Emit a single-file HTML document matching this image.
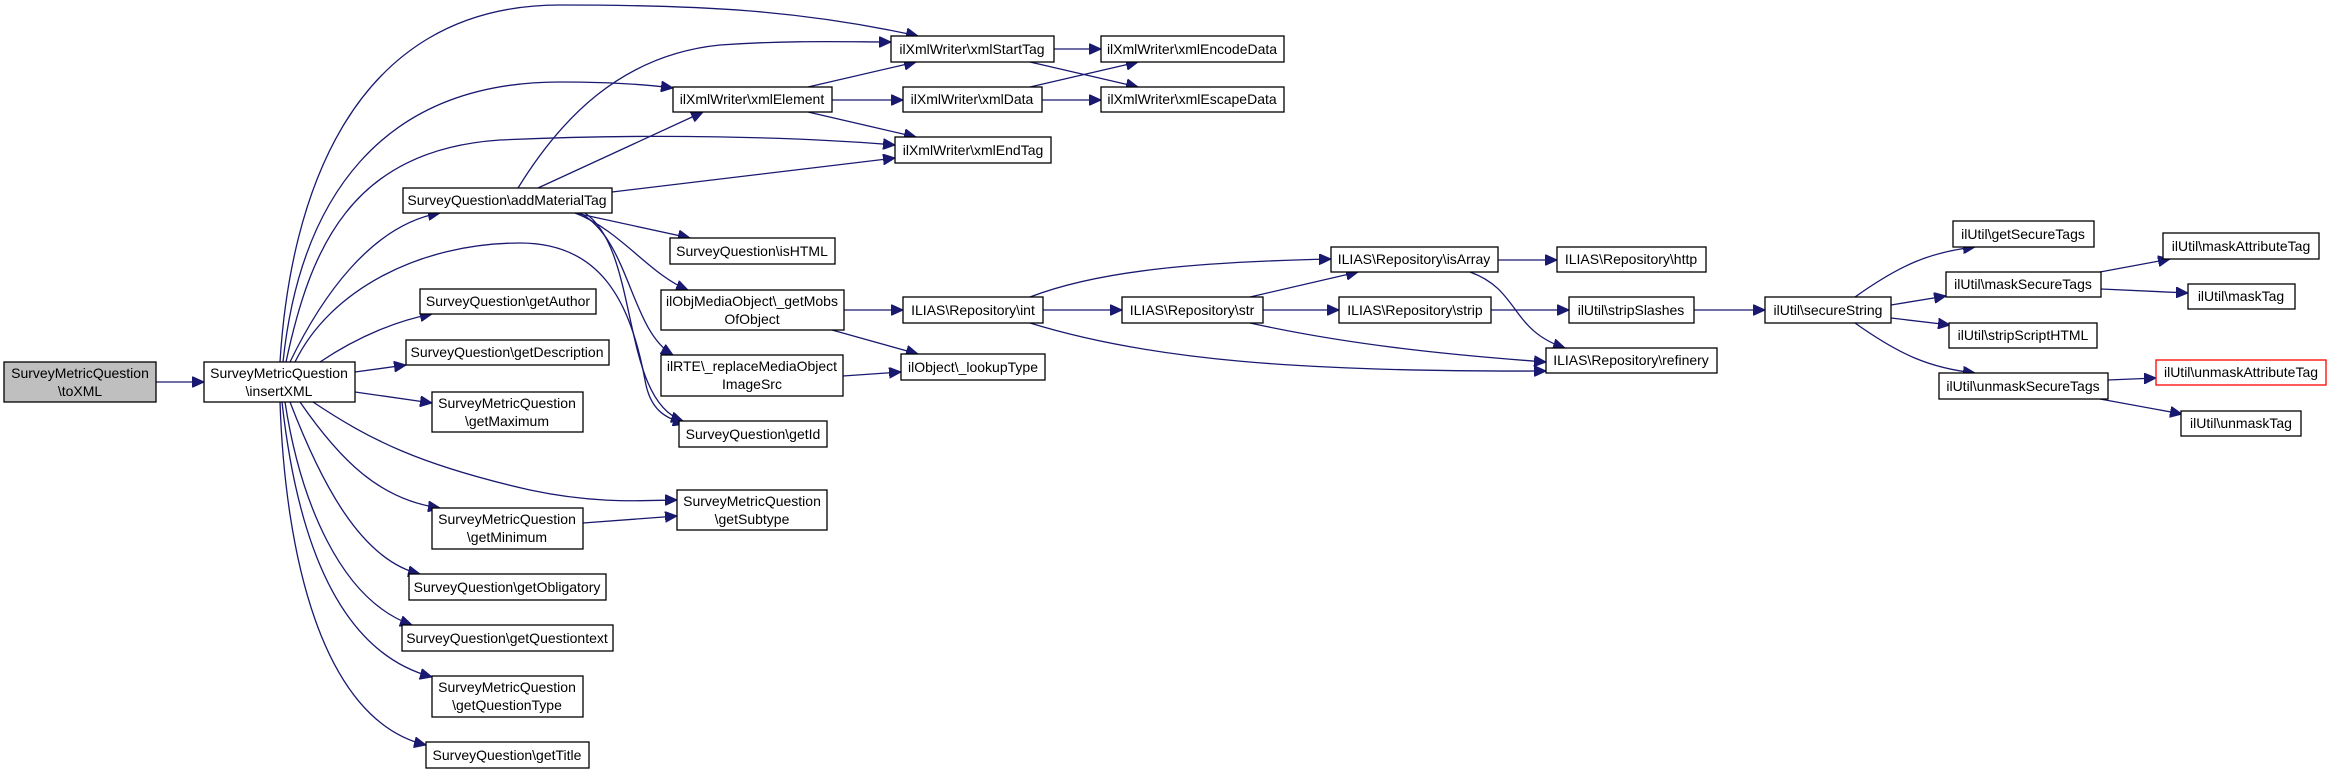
<!DOCTYPE html>
<html><head><meta charset="utf-8"><style>
html,body{margin:0;padding:0;background:#fff;}
svg{display:block;}
text{font-family:"Liberation Sans Narrow","Liberation Sans",sans-serif;font-size:14px;fill:#000;text-anchor:middle;}
rect{fill:#fff;stroke:#000;stroke-width:1.3;}
path{fill:none;stroke:#191970;stroke-width:1.3;}
</style></head><body>
<svg width="2328" height="774" viewBox="0 0 2328 774" xmlns="http://www.w3.org/2000/svg">
<defs><marker id="a" markerUnits="userSpaceOnUse" markerWidth="13" markerHeight="11" refX="12" refY="5.5" orient="auto"><path d="M0,0 L12,5.5 L0,11 Z" style="fill:#191970;stroke:#191970;stroke-width:1"/></marker></defs>
<g marker-end="url(#a)">
<path d="M156,382 L204,382"/>
<path d="M280,362 C290,200 350,5 560,5 C700,5 800,10 918,36"/>
<path d="M283,362 C300,200 380,82 560,82 C610,82 650,85 673,88"/>
<path d="M286,362 C310,250 350,150 500,140 C650,133 800,137 895,145"/>
<path d="M290,362 C320,300 370,225 440,213"/>
<path d="M295,362 C330,290 420,243 520,243 C600,243 630,300 645,380 C650,410 665,418 685,424"/>
<path d="M320,362 C360,335 400,320 432,314"/>
<path d="M355,372 L406,365"/>
<path d="M355,392 L432,403"/>
<path d="M313,402 C370,440 420,465 530,490 C600,505 650,500 677,500"/>
<path d="M300,402 C340,460 380,500 440,508"/>
<path d="M290,402 C320,480 360,560 420,574"/>
<path d="M285,402 C300,500 340,600 412,625"/>
<path d="M282,402 C295,520 330,650 432,677"/>
<path d="M280,402 C285,550 320,720 426,745"/>
<path d="M583,523 L677,516"/>
<path d="M518,188 C560,120 620,55 720,45 C790,40 850,42 891,42"/>
<path d="M538,188 L703,112"/>
<path d="M612,192 L895,158"/>
<path d="M575,213 L690,238"/>
<path d="M575,213 C620,230 650,275 688,290"/>
<path d="M580,213 C630,240 630,330 673,355"/>
<path d="M585,213 C640,250 620,400 683,421"/>
<path d="M808,87 L916,62"/>
<path d="M832,100 L903,100"/>
<path d="M808,112 L916,137"/>
<path d="M1054,49 L1101,49"/>
<path d="M1030,62 L1138,87"/>
<path d="M1030,87 L1138,62"/>
<path d="M1042,100 L1101,100"/>
<path d="M844,310 L903,310"/>
<path d="M832,330 L918,354"/>
<path d="M843,376 L901,372"/>
<path d="M1030,297 C1100,270 1200,262 1331,259"/>
<path d="M1043,310 L1122,310"/>
<path d="M1030,323 C1150,360 1300,372 1546,371"/>
<path d="M1250,297 L1358,272"/>
<path d="M1263,310 L1339,310"/>
<path d="M1250,323 C1350,345 1450,355 1546,362"/>
<path d="M1498,260 L1557,260"/>
<path d="M1470,272 C1520,290 1510,330 1565,348"/>
<path d="M1491,310 L1569,310"/>
<path d="M1694,310 L1765,310"/>
<path d="M1855,297 C1900,265 1930,252 1975,247"/>
<path d="M1891,305 L1946,296"/>
<path d="M1891,318 L1950,325"/>
<path d="M1855,323 C1900,355 1930,368 1975,373"/>
<path d="M2100,272 L2170,259"/>
<path d="M2101,289 L2188,293"/>
<path d="M2108,380 L2156,378"/>
<path d="M2100,399 L2182,414"/>
</g>
<rect x="4" y="362" width="152" height="40" style="fill:#bfbfbf"/><text x="80" y="378">SurveyMetricQuestion</text><text x="80" y="396">\toXML</text>
<rect x="204" y="362" width="151" height="40"/><text x="279" y="378">SurveyMetricQuestion</text><text x="279" y="396">\insertXML</text>
<rect x="403" y="188" width="209" height="25"/><text x="507" y="205">SurveyQuestion\addMaterialTag</text>
<rect x="420" y="289" width="176" height="25"/><text x="508" y="306">SurveyQuestion\getAuthor</text>
<rect x="406" y="340" width="203" height="25"/><text x="507" y="357">SurveyQuestion\getDescription</text>
<rect x="432" y="392" width="151" height="40"/><text x="507" y="408">SurveyMetricQuestion</text><text x="507" y="426">\getMaximum</text>
<rect x="432" y="508" width="151" height="41"/><text x="507" y="524">SurveyMetricQuestion</text><text x="507" y="542">\getMinimum</text>
<rect x="409" y="574" width="197" height="26"/><text x="507" y="592">SurveyQuestion\getObligatory</text>
<rect x="402" y="625" width="211" height="26"/><text x="507" y="643">SurveyQuestion\getQuestiontext</text>
<rect x="432" y="676" width="151" height="41"/><text x="507" y="692">SurveyMetricQuestion</text><text x="507" y="710">\getQuestionType</text>
<rect x="426" y="742" width="163" height="26"/><text x="507" y="760">SurveyQuestion\getTitle</text>
<rect x="891" y="36" width="163" height="26"/><text x="972" y="54">ilXmlWriter\xmlStartTag</text>
<rect x="1101" y="36" width="183" height="26"/><text x="1192" y="54">ilXmlWriter\xmlEncodeData</text>
<rect x="673" y="87" width="159" height="25"/><text x="752" y="104">ilXmlWriter\xmlElement</text>
<rect x="903" y="87" width="139" height="25"/><text x="972" y="104">ilXmlWriter\xmlData</text>
<rect x="1101" y="87" width="183" height="25"/><text x="1192" y="104">ilXmlWriter\xmlEscapeData</text>
<rect x="895" y="137" width="156" height="26"/><text x="973" y="155">ilXmlWriter\xmlEndTag</text>
<rect x="670" y="238" width="165" height="26"/><text x="752" y="256">SurveyQuestion\isHTML</text>
<rect x="661" y="290" width="183" height="40"/><text x="752" y="306">ilObjMediaObject\_getMobs</text><text x="752" y="324">OfObject</text>
<rect x="661" y="355" width="182" height="41"/><text x="752" y="371">ilRTE\_replaceMediaObject</text><text x="752" y="389">ImageSrc</text>
<rect x="679" y="421" width="148" height="26"/><text x="753" y="439">SurveyQuestion\getId</text>
<rect x="677" y="490" width="150" height="40"/><text x="752" y="506">SurveyMetricQuestion</text><text x="752" y="524">\getSubtype</text>
<rect x="903" y="297" width="140" height="26"/><text x="973" y="315">ILIAS\Repository\int</text>
<rect x="901" y="354" width="144" height="26"/><text x="973" y="372">ilObject\_lookupType</text>
<rect x="1122" y="297" width="141" height="26"/><text x="1192" y="315">ILIAS\Repository\str</text>
<rect x="1339" y="297" width="152" height="26"/><text x="1415" y="315">ILIAS\Repository\strip</text>
<rect x="1331" y="247" width="167" height="25"/><text x="1414" y="264">ILIAS\Repository\isArray</text>
<rect x="1557" y="247" width="149" height="25"/><text x="1631" y="264">ILIAS\Repository\http</text>
<rect x="1569" y="297" width="125" height="26"/><text x="1631" y="315">ilUtil\stripSlashes</text>
<rect x="1546" y="348" width="171" height="25"/><text x="1631" y="365">ILIAS\Repository\refinery</text>
<rect x="1765" y="297" width="126" height="26"/><text x="1828" y="315">ilUtil\secureString</text>
<rect x="1953" y="221" width="141" height="26"/><text x="2023" y="239">ilUtil\getSecureTags</text>
<rect x="1946" y="272" width="155" height="25"/><text x="2023" y="289">ilUtil\maskSecureTags</text>
<rect x="1949" y="323" width="148" height="25"/><text x="2023" y="340">ilUtil\stripScriptHTML</text>
<rect x="1939" y="373" width="169" height="26"/><text x="2023" y="391">ilUtil\unmaskSecureTags</text>
<rect x="2163" y="233" width="156" height="26"/><text x="2241" y="251">ilUtil\maskAttributeTag</text>
<rect x="2188" y="284" width="107" height="25"/><text x="2241" y="301">ilUtil\maskTag</text>
<rect x="2156" y="360" width="170" height="25" style="stroke:#ff0000"/><text x="2241" y="377">ilUtil\unmaskAttributeTag</text>
<rect x="2181" y="411" width="120" height="25"/><text x="2241" y="428">ilUtil\unmaskTag</text>
</svg>
</body></html>
